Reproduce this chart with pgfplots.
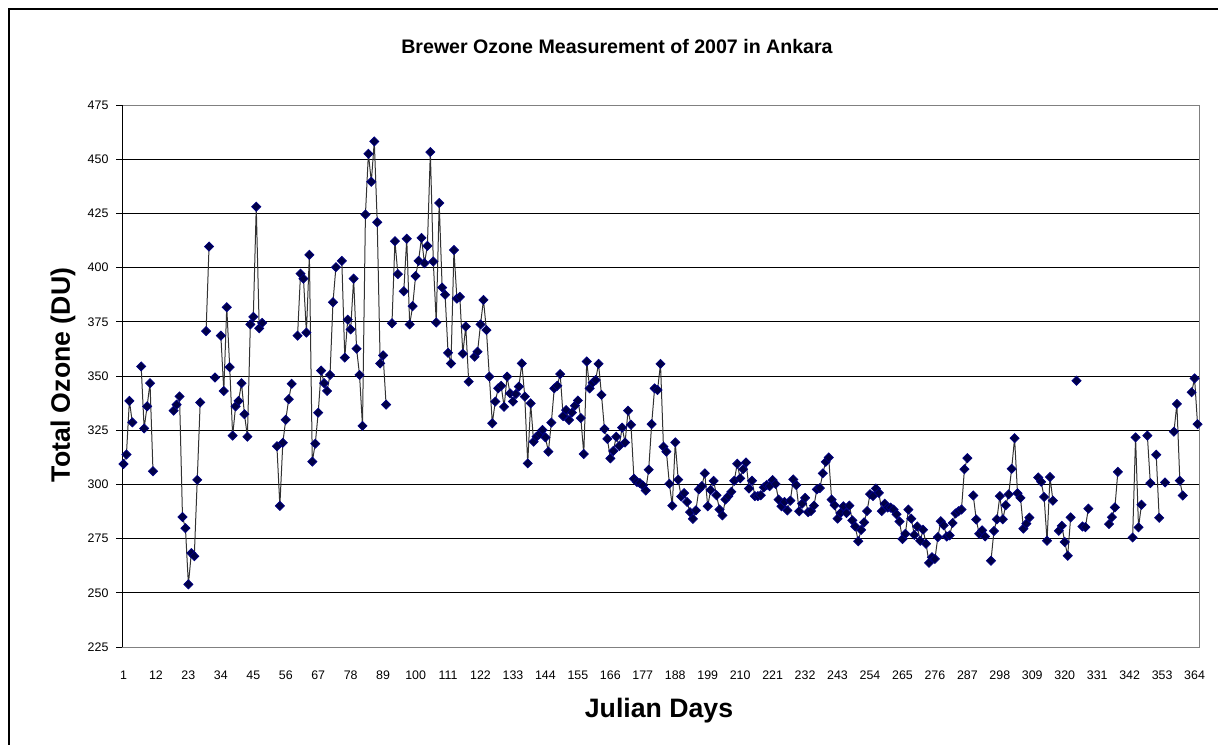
\documentclass[border=0pt]{standalone}
\usepackage{pgfplots}
\pgfplotsset{compat=1.18}
\usepackage{pgfplotstable}
\usepackage{fontspec}
\setmainfont{Liberation Sans}
\definecolor{mk}{RGB}{0,0,128}
\definecolor{mkf}{RGB}{0,0,70}
\definecolor{ln}{RGB}{50,50,50}

\pgfplotstableread{
day val
1 309.4
2 313.8
3 338.5
4 328.6
5 nan
7 354.4
8 325.8
9 336.0
10 346.7
11 306.1
12 nan
18 334.0
19 336.8
20 340.6
21 285.0
22 279.8
23 253.9
24 268.3
25 266.9
26 302.1
27 337.8
28 nan
29 370.7
30 409.7
31 nan
32 349.3
33 nan
34 368.6
35 343.1
36 381.7
37 354.1
38 322.5
39 336.0
40 338.5
41 346.7
42 332.4
43 322.0
44 373.8
45 377.3
46 428.1
47 372.0
48 374.5
49 nan
53 317.6
54 290.1
55 319.2
56 329.8
57 339.3
58 346.4
59 nan
60 368.6
61 397.2
62 394.9
63 370.0
64 405.9
65 310.5
66 318.8
67 333.1
68 352.5
69 346.7
70 343.1
71 350.5
72 384.0
73 400.2
74 nan
75 403.1
76 358.5
77 376.0
78 371.5
79 394.9
80 362.6
81 350.5
82 327.0
83 424.5
84 452.5
85 439.6
86 458.2
87 420.9
88 355.8
89 359.5
90 336.8
91 nan
92 374.3
93 412.2
94 397.0
95 nan
96 389.1
97 413.3
98 373.8
99 382.2
100 396.1
101 403.1
102 413.7
103 402.0
104 410.0
105 453.3
106 402.8
107 374.7
108 429.8
109 390.8
110 387.5
111 360.7
112 355.8
113 408.1
114 385.7
115 386.5
116 360.3
117 372.8
118 347.4
119 nan
120 358.9
121 361.2
122 373.8
123 385.1
124 371.2
125 349.7
126 328.2
127 338.2
128 344.3
129 345.5
130 335.8
131 349.7
132 342.0
133 338.2
134 341.7
135 345.1
136 355.8
137 340.5
138 309.7
139 337.4
140 319.7
141 322.0
142 323.2
143 325.1
144 321.7
145 315.1
146 328.5
147 344.3
148 345.5
149 350.9
150 331.5
151 334.3
152 329.7
153 333.1
154 336.3
155 338.7
156 330.6
157 314.0
158 356.7
159 344.3
160 346.9
161 348.1
162 355.6
163 341.3
164 325.6
165 321.0
166 312.0
167 315.4
168 322.0
169 317.7
170 326.2
171 319.3
172 334.0
173 327.5
174 302.6
175 301.1
176 300.6
177 299.5
178 297.2
179 306.8
180 327.8
181 344.3
182 343.5
183 355.6
184 317.4
185 315.1
186 300.3
187 290.2
188 319.4
189 302.2
190 294.4
191 296.0
192 291.9
193 287.2
194 284.1
195 288.0
196 297.7
197 299.2
198 305.1
199 289.9
200 297.4
201 301.6
202 295.0
203 288.4
204 285.7
205 293.0
206 294.6
207 296.6
208 301.7
209 309.5
210 302.8
211 307.0
212 310.1
213 298.1
214 301.7
215 294.6
216 294.6
217 295.0
218 298.6
219 299.7
220 299.2
221 302.0
222 300.2
223 293.0
224 289.9
225 291.9
226 288.0
227 292.5
228 302.3
229 299.7
230 287.6
231 291.1
232 293.8
233 287.2
234 287.7
235 290.2
236 297.7
237 298.3
238 305.1
239 310.4
240 312.4
241 293.0
242 290.4
243 284.2
244 286.8
245 289.9
246 286.8
247 290.2
248 283.4
249 280.6
250 273.8
251 279.0
252 282.5
253 287.7
254 295.5
255 294.6
256 298.1
257 296.1
258 287.7
259 291.1
260 289.3
261 289.3
262 288.4
263 286.2
264 282.9
265 274.8
266 277.2
267 288.4
268 284.2
269 276.7
270 280.6
271 274.0
272 279.1
273 272.6
274 263.8
275 266.4
276 265.6
277 275.7
278 283.0
279 281.1
280 276.0
281 276.5
282 282.2
283 286.6
284 287.6
285 288.4
286 307.0
287 312.1
288 nan
289 294.9
290 283.8
291 277.2
292 278.8
293 276.0
294 nan
295 264.8
296 278.5
297 283.9
298 294.6
299 283.9
300 290.4
301 295.4
302 307.2
303 321.3
304 295.9
305 293.8
306 279.6
307 281.9
308 284.7
309 nan
311 303.2
312 301.2
313 294.2
314 274.0
315 303.4
316 292.5
317 nan
318 278.6
319 280.9
320 273.4
321 267.1
322 284.8
323 nan
324 347.8
325 nan
326 280.6
327 280.3
328 288.8
329 nan
335 281.7
336 284.9
337 289.4
338 305.8
339 nan
343 275.5
344 321.7
345 280.2
346 290.6
347 nan
348 322.5
349 300.6
350 nan
351 313.7
352 284.6
353 nan
354 300.9
355 nan
357 324.3
358 337.1
359 301.7
360 294.9
361 nan
363 342.5
364 348.9
365 327.8
}\ozone

\begin{document}
\begin{tikzpicture}
\path[use as bounding box] (0,0) rectangle (913.5pt,558pt);
\draw[black, line width=1.5pt] (6.4pt,-5pt) -- (6.4pt,551.2pt) -- (930pt,551.2pt);
\begin{axis}[
  at={(91.5pt,72.75pt)}, anchor=south west,
  width=807.75pt, height=406.5pt, scale only axis,
  xmin=0.5, xmax=365.5,
  ymin=225, ymax=475,
  xtick={1,12,...,364},
  ytick={225,250,...,475},
  xtick style={draw=none},
  ytick pos=left,
  tick align=outside,
  major tick length=4.5pt,
  ytick style={black, line width=0.75pt},
  ymajorgrids,
  grid style={black, line width=0.75pt},
  axis line style={draw=gray, line width=0.75pt},
  /pgf/number format/assume math mode=true,
  tick label style={font=\fontsize{9.3}{11}\selectfont},
  yticklabel style={anchor=east, inner sep=0pt, xshift=-5.5pt},
  xticklabel style={anchor=north, inner sep=0pt, yshift=-13pt},
  unbounded coords=jump,
  clip=false,
]
\addplot[color=ln, line width=0.75pt, mark=square*, mark size=2.4pt,
  mark options={rotate=45, draw=mk, fill=mkf, line width=0.6pt}]
  table[x=day, y=val] {\ozone};
\draw[black, line width=0.75pt] (rel axis cs:0,0) -- (rel axis cs:0,1);
\end{axis}
\node[anchor=base, font=\fontsize{14.7}{17}\selectfont\bfseries] at (462.75pt,518pt) {Brewer Ozone Measurement of 2007 in Ankara};
\node[anchor=base, font=\fontsize{20}{24}\selectfont\bfseries] at (494.25pt,20.25pt) {Julian Days};
\node[anchor=base, rotate=90, font=\fontsize{20}{24}\selectfont\bfseries] at (52.5pt,276.75pt) {Total Ozone (DU)};
\end{tikzpicture}
\end{document}
